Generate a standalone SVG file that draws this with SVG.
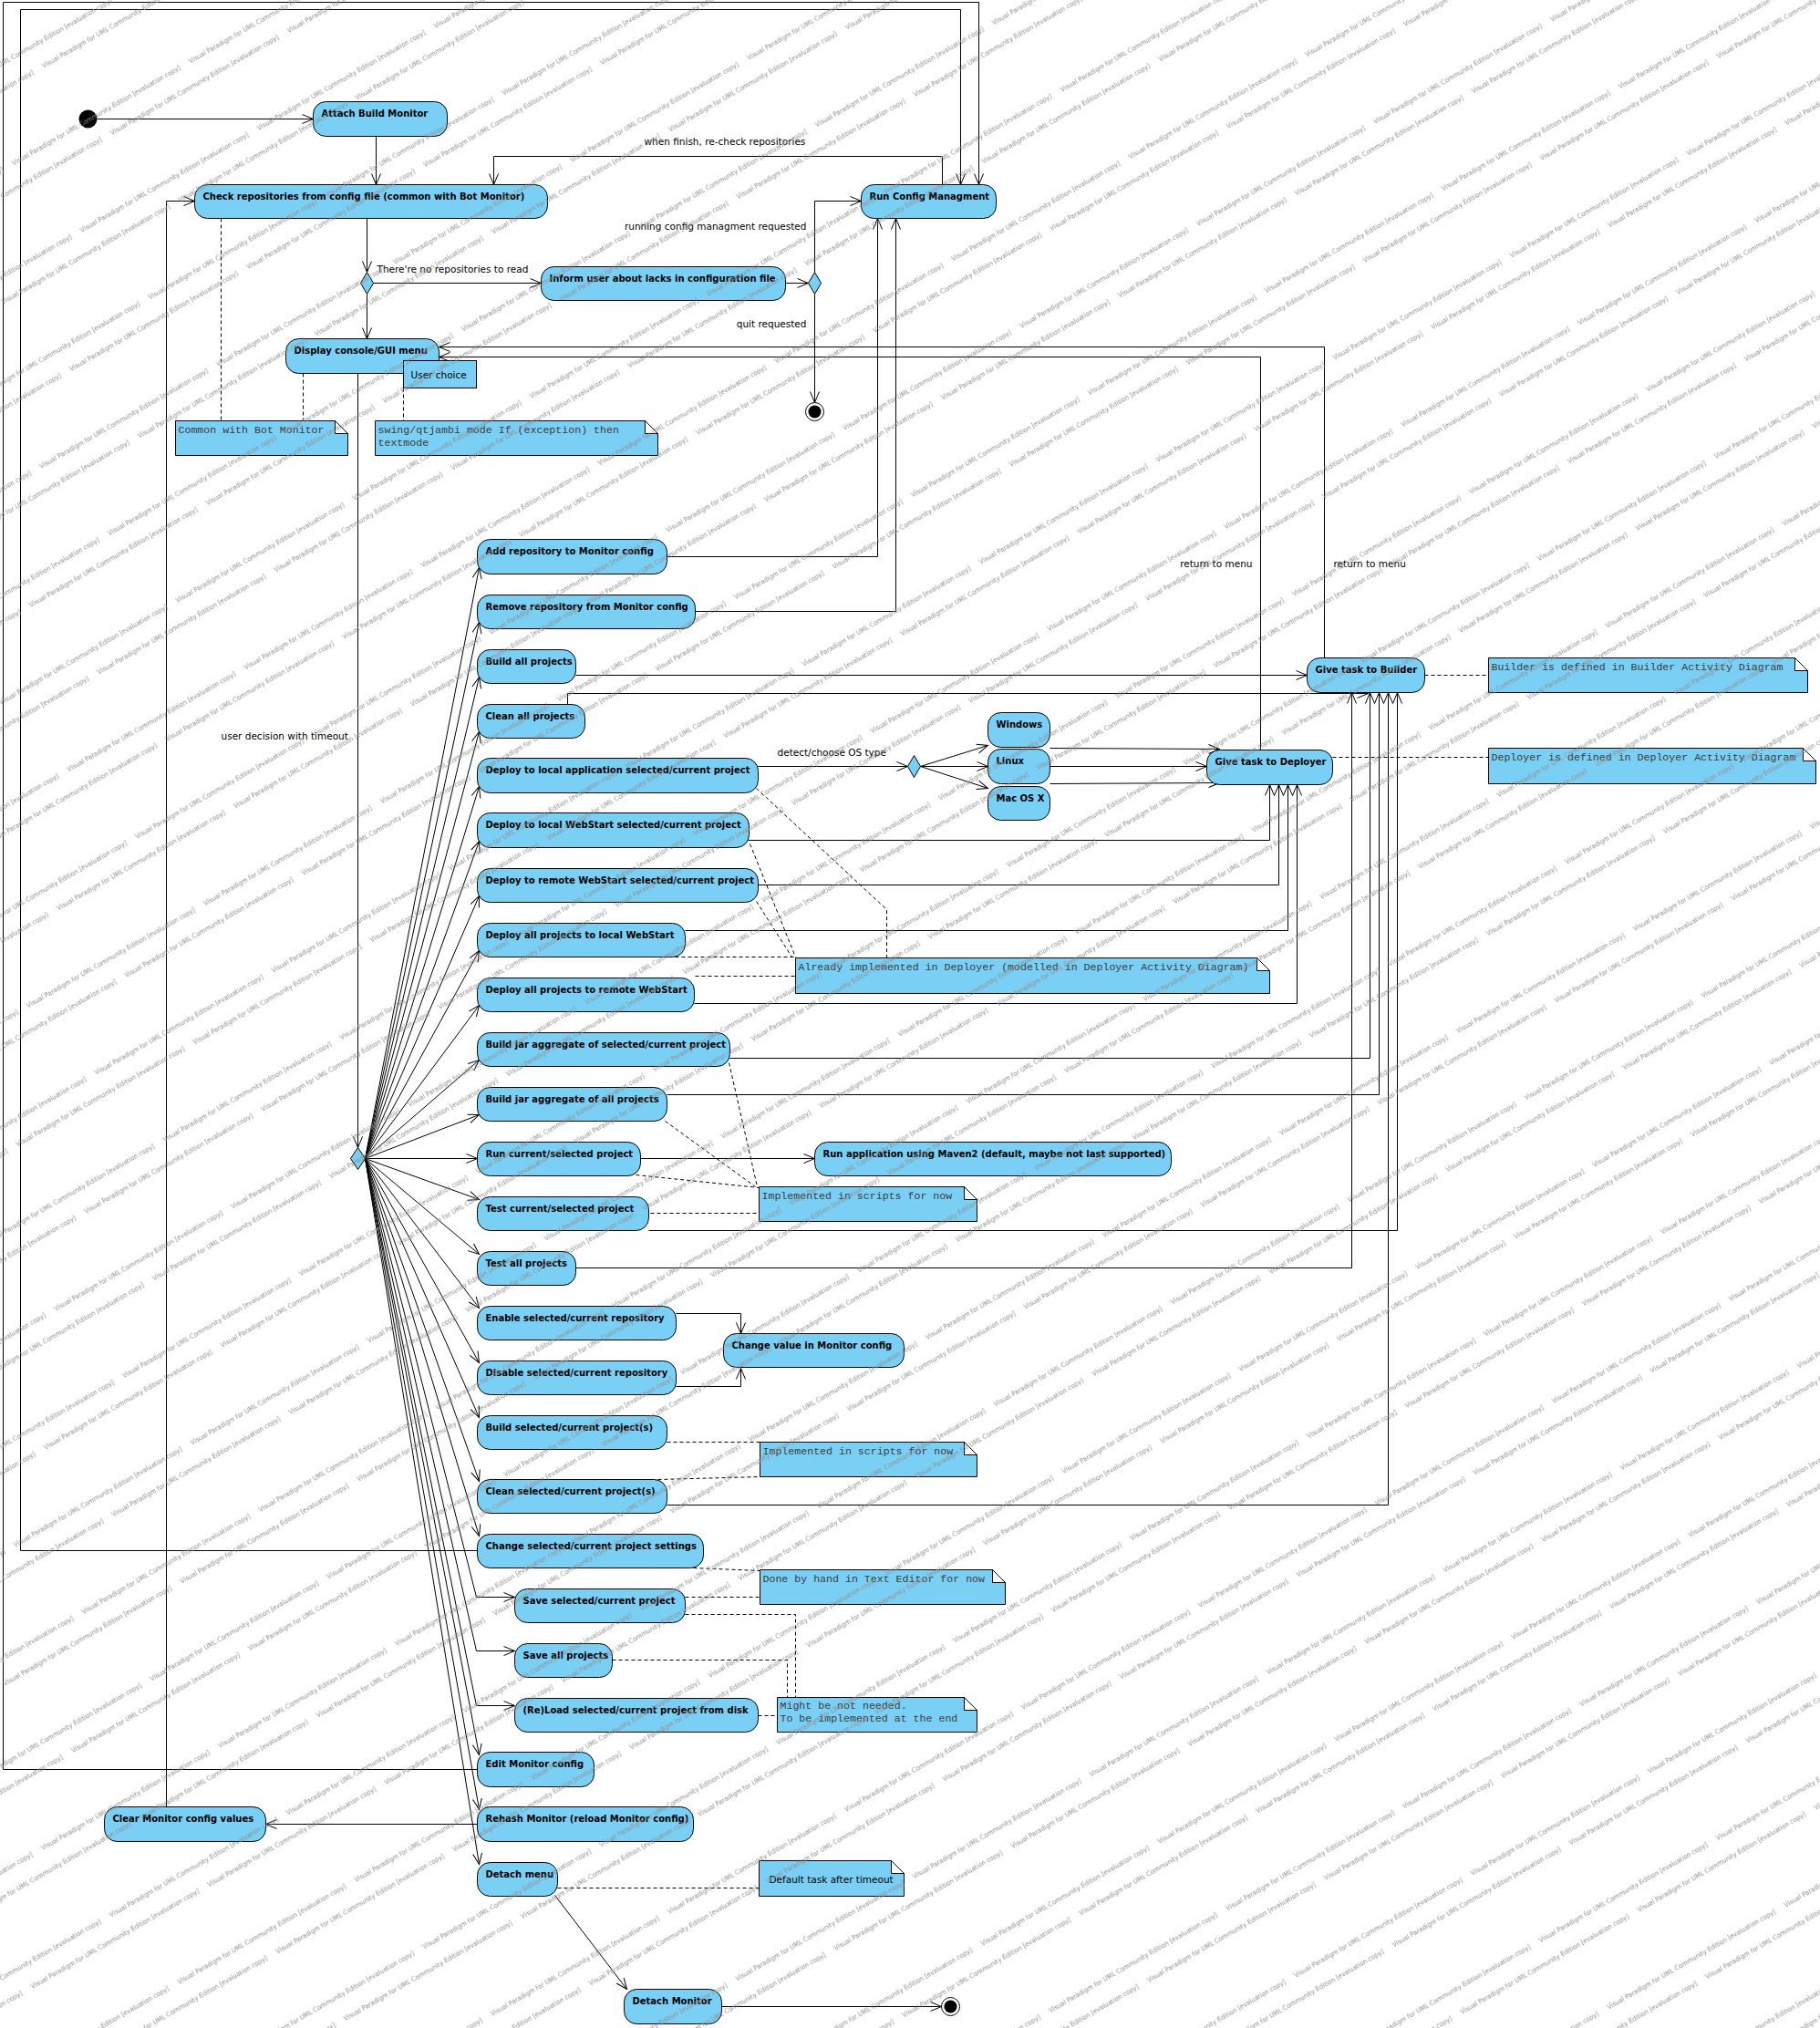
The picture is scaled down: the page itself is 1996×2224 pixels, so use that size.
<svg xmlns="http://www.w3.org/2000/svg" width="1996" height="2224" viewBox="0 0 1996 2224">
<style>
.act{fill:#7ACFF5;stroke:#000;stroke-width:1}
.t{font-family:"DejaVu Sans",sans-serif;font-size:10px;font-weight:bold;fill:#000}
.e{fill:none;stroke:#000;stroke-width:1}
.a{marker-end:url(#ah)}
.d{fill:none;stroke:#000;stroke-width:1;stroke-dasharray:4 3}
.nb{fill:#7ACFF5;stroke:#000;stroke-width:1}
.nf{fill:#fff;stroke:#000;stroke-width:1}
.nt{font-family:"Liberation Mono",monospace;font-size:11.6px;fill:#3c3c3c}
.st{font-family:"DejaVu Sans",sans-serif;font-size:10.5px;fill:#000}
.wmt{font-family:"DejaVu Sans",sans-serif;font-size:7.5px;fill:#8e8e8e}
</style>
<defs>
<marker id="ah" viewBox="0 0 14 12" refX="13" refY="6" markerWidth="14" markerHeight="12" orient="auto" markerUnits="userSpaceOnUse">
<path d="M1,1 L13,6 L1,11" fill="none" stroke="#000" stroke-width="1"/>
</marker>
<pattern id="wm" patternUnits="userSpaceOnUse" x="4.1" y="78.9" width="224" height="808" patternTransform="rotate(-30)">
<g class="wmt">
<text x="0" y="10" textLength="212" lengthAdjust="spacingAndGlyphs">Visual Paradigm for UML Community Edition [evaluation copy]</text>
<text x="-224" y="10" textLength="212" lengthAdjust="spacingAndGlyphs">Visual Paradigm for UML Community Edition [evaluation copy]</text>
<text x="142" y="85.6" textLength="212" lengthAdjust="spacingAndGlyphs">Visual Paradigm for UML Community Edition [evaluation copy]</text>
<text x="-82" y="85.6" textLength="212" lengthAdjust="spacingAndGlyphs">Visual Paradigm for UML Community Edition [evaluation copy]</text>
<text x="28" y="111" textLength="212" lengthAdjust="spacingAndGlyphs">Visual Paradigm for UML Community Edition [evaluation copy]</text>
<text x="-196" y="111" textLength="212" lengthAdjust="spacingAndGlyphs">Visual Paradigm for UML Community Edition [evaluation copy]</text>
<text x="170" y="186.6" textLength="212" lengthAdjust="spacingAndGlyphs">Visual Paradigm for UML Community Edition [evaluation copy]</text>
<text x="-54" y="186.6" textLength="212" lengthAdjust="spacingAndGlyphs">Visual Paradigm for UML Community Edition [evaluation copy]</text>
<text x="56" y="212" textLength="212" lengthAdjust="spacingAndGlyphs">Visual Paradigm for UML Community Edition [evaluation copy]</text>
<text x="-168" y="212" textLength="212" lengthAdjust="spacingAndGlyphs">Visual Paradigm for UML Community Edition [evaluation copy]</text>
<text x="198" y="287.6" textLength="212" lengthAdjust="spacingAndGlyphs">Visual Paradigm for UML Community Edition [evaluation copy]</text>
<text x="-26" y="287.6" textLength="212" lengthAdjust="spacingAndGlyphs">Visual Paradigm for UML Community Edition [evaluation copy]</text>
<text x="84" y="313" textLength="212" lengthAdjust="spacingAndGlyphs">Visual Paradigm for UML Community Edition [evaluation copy]</text>
<text x="-140" y="313" textLength="212" lengthAdjust="spacingAndGlyphs">Visual Paradigm for UML Community Edition [evaluation copy]</text>
<text x="2" y="388.6" textLength="212" lengthAdjust="spacingAndGlyphs">Visual Paradigm for UML Community Edition [evaluation copy]</text>
<text x="-222" y="388.6" textLength="212" lengthAdjust="spacingAndGlyphs">Visual Paradigm for UML Community Edition [evaluation copy]</text>
<text x="112" y="414" textLength="212" lengthAdjust="spacingAndGlyphs">Visual Paradigm for UML Community Edition [evaluation copy]</text>
<text x="-112" y="414" textLength="212" lengthAdjust="spacingAndGlyphs">Visual Paradigm for UML Community Edition [evaluation copy]</text>
<text x="30" y="489.6" textLength="212" lengthAdjust="spacingAndGlyphs">Visual Paradigm for UML Community Edition [evaluation copy]</text>
<text x="-194" y="489.6" textLength="212" lengthAdjust="spacingAndGlyphs">Visual Paradigm for UML Community Edition [evaluation copy]</text>
<text x="140" y="515" textLength="212" lengthAdjust="spacingAndGlyphs">Visual Paradigm for UML Community Edition [evaluation copy]</text>
<text x="-84" y="515" textLength="212" lengthAdjust="spacingAndGlyphs">Visual Paradigm for UML Community Edition [evaluation copy]</text>
<text x="58" y="590.6" textLength="212" lengthAdjust="spacingAndGlyphs">Visual Paradigm for UML Community Edition [evaluation copy]</text>
<text x="-166" y="590.6" textLength="212" lengthAdjust="spacingAndGlyphs">Visual Paradigm for UML Community Edition [evaluation copy]</text>
<text x="168" y="616" textLength="212" lengthAdjust="spacingAndGlyphs">Visual Paradigm for UML Community Edition [evaluation copy]</text>
<text x="-56" y="616" textLength="212" lengthAdjust="spacingAndGlyphs">Visual Paradigm for UML Community Edition [evaluation copy]</text>
<text x="86" y="691.6" textLength="212" lengthAdjust="spacingAndGlyphs">Visual Paradigm for UML Community Edition [evaluation copy]</text>
<text x="-138" y="691.6" textLength="212" lengthAdjust="spacingAndGlyphs">Visual Paradigm for UML Community Edition [evaluation copy]</text>
<text x="196" y="717" textLength="212" lengthAdjust="spacingAndGlyphs">Visual Paradigm for UML Community Edition [evaluation copy]</text>
<text x="-28" y="717" textLength="212" lengthAdjust="spacingAndGlyphs">Visual Paradigm for UML Community Edition [evaluation copy]</text>
<text x="114" y="792.6" textLength="212" lengthAdjust="spacingAndGlyphs">Visual Paradigm for UML Community Edition [evaluation copy]</text>
<text x="-110" y="792.6" textLength="212" lengthAdjust="spacingAndGlyphs">Visual Paradigm for UML Community Edition [evaluation copy]</text>
</g>
</pattern>
</defs>
<rect x="0" y="0" width="1996" height="2224" fill="#fff"/>
<g transform="translate(0.5,0.5)">
<!-- connectors -->
<g id="connectors">
<path class="e a" d="M106,130 H343"/>
<path class="e a" d="M412,149 V202"/>
<path class="e a" d="M402,239 V298"/>
<path class="e a" d="M402,322 V371"/>
<path class="e a" d="M409,310 H593"/>
<path class="e a" d="M861,310 H886"/>
<path class="e a" d="M893,298 V220 H944"/>
<path class="e a" d="M893,322 V441"/>
<path class="e a" d="M1033,202 V171 H541 V202"/>
<path class="e a" d="M392,409 V1258"/>
<path class="e a" d="M1452,721 V380 H481"/>
<path class="e a" d="M1382,822 V391 H481"/>
<path class="e a" d="M523,1940 H3 V2 H1073 V202"/>
<path class="e a" d="M523,1700 H22 V10 H1053 V202"/>
<path class="e a" d="M182,1981 V220 H213"/>
<path class="e a" d="M523,2000 H291"/>
<path class="e a" d="M608,2078 L687,2181"/>
<path class="e a" d="M791,2200 H1032"/>
<path class="e a" d="M731,610 H962 V239"/>
<path class="e a" d="M762,670 H982 V239"/>
<path class="e a" d="M631,740 H1433"/>
<path class="e a" d="M622,772 V760 H1500"/>
<path class="e a" d="M831,840 H995"/>
<path class="e a" d="M1009,840 L1083,817"/>
<path class="e a" d="M1009,840 H1083"/>
<path class="e a" d="M1009,840 L1083,864"/>
<path class="e a" d="M1151,820 L1337,821"/>
<path class="e a" d="M1151,840 H1323"/>
<path class="e a" d="M1151,859 L1337,858"/>
<path class="e a" d="M819,921 H1392 V860"/>
<path class="e a" d="M831,970 H1402 V860"/>
<path class="e a" d="M751,1020 H1412 V860"/>
<path class="e a" d="M761,1100 H1422 V860"/>
<path class="e a" d="M800,1160 H1502 V759"/>
<path class="e a" d="M731,1200 H1512 V759"/>
<path class="e a" d="M702,1270 H893"/>
<path class="e a" d="M711,1349 H1532 V759"/>
<path class="e a" d="M631,1390 H1482 V759"/>
<path class="e a" d="M741,1440 H812 V1462"/>
<path class="e a" d="M741,1520 H812 V1500"/>
<path class="e a" d="M731,1650 H1522 V759"/>
<!-- fan out of the menu decision -->
<path class="e a" d="M400,1270 L525,622"/>
<path class="e a" d="M400,1270 L525,682"/>
<path class="e a" d="M400,1270 L525,742"/>
<path class="e a" d="M400,1270 L525,802"/>
<path class="e a" d="M400,1270 L525,862"/>
<path class="e a" d="M400,1270 L525,922"/>
<path class="e a" d="M400,1270 L525,982"/>
<path class="e a" d="M400,1270 L525,1042"/>
<path class="e a" d="M400,1270 L525,1102"/>
<path class="e a" d="M400,1270 L525,1162"/>
<path class="e a" d="M400,1270 L525,1222"/>
<path class="e a" d="M400,1270 L523,1270"/>
<path class="e a" d="M400,1270 L525,1315"/>
<path class="e a" d="M400,1270 L525,1375"/>
<path class="e a" d="M400,1270 L525,1434"/>
<path class="e a" d="M400,1270 L525,1494"/>
<path class="e a" d="M400,1270 L525,1554"/>
<path class="e a" d="M400,1270 L525,1624"/>
<path class="e a" d="M400,1270 L525,1684"/>
<path class="e a" d="M400,1270 L522,1751 H564"/>
<path class="e a" d="M400,1270 L522,1810 H564"/>
<path class="e a" d="M400,1270 L522,1870 H564"/>
<path class="e a" d="M400,1270 L525,1924"/>
<path class="e a" d="M400,1270 L525,1984"/>
<path class="e a" d="M400,1270 L525,2044"/>
<!-- note anchors -->
<path class="d" d="M242,239 V461"/>
<path class="d" d="M332,409 V461"/>
<path class="d" d="M442,425 V461"/>
<path class="d" d="M1562,740 H1632"/>
<path class="d" d="M1461,830 H1632"/>
<path class="d" d="M829,864 L972,997 V1050"/>
<path class="d" d="M822,925 L872,1049"/>
<path class="d" d="M829,988 L868,1049"/>
<path class="d" d="M740,1049 H872"/>
<path class="d" d="M762,1070 H872"/>
<path class="d" d="M799,1165 L830,1301"/>
<path class="d" d="M729,1229 L828,1301"/>
<path class="d" d="M697,1288 L832,1302"/>
<path class="d" d="M713,1330 H832"/>
<path class="d" d="M731,1581 H833"/>
<path class="d" d="M721,1622 L833,1619"/>
<path class="d" d="M760,1719 L833,1722"/>
<path class="d" d="M751,1751 H833"/>
<path class="d" d="M751,1770 H872 V1861"/>
<path class="d" d="M671,1820 H863 V1861"/>
<path class="d" d="M831,1881 H852"/>
<path class="d" d="M611,2070 H832"/>
<!-- guard labels -->
<text class="st" x="413" y="298">There're no repositories to read</text>
<text class="st" x="884" y="251" text-anchor="end">running config managment requested</text>
<text class="st" x="884" y="358" text-anchor="end">quit requested</text>
<text class="st" x="706" y="158">when finish, re-check repositories</text>
<text class="st" x="1373" y="621" text-anchor="end">return to menu</text>
<text class="st" x="1462" y="621">return to menu</text>
<text class="st" x="852" y="828">detect/choose OS type</text>
<text class="st" x="242" y="810">user decision with timeout</text>
</g>

<!-- control nodes -->
<g id="start"><circle cx="96" cy="130" r="10" fill="#000"/></g>
<g id="end-quit"><circle cx="893" cy="451" r="10" fill="#fff" stroke="#000"/><circle cx="893" cy="451" r="7" fill="#000"/></g>
<g id="end-detach"><circle cx="1042" cy="2200" r="10" fill="#fff" stroke="#000"/><circle cx="1042" cy="2200" r="7" fill="#000"/></g>
<g id="dec-repos"><path class="act" d="M402,298 L409,310 L402,322 L395,310 Z"/></g>
<g id="dec-config"><path class="act" d="M893,298 L900,310 L893,322 L886,310 Z"/></g>
<g id="dec-os"><path class="act" d="M1002,828 L1009,840 L1002,852 L995,840 Z"/></g>
<g id="dec-menu"><path class="act" d="M392,1258 L400,1270 L392,1282 L384,1270 Z"/></g>

<!-- activities -->
<g id="attach"><rect class="act" x="343" y="111" width="147" height="38" rx="14"/><text class="t" x="352" y="127">Attach Build Monitor</text></g>
<g id="check-repos"><rect class="act" x="213" y="202" width="387" height="37" rx="14"/><text class="t" x="222" y="218">Check repositories from config file (common with Bot Monitor)</text></g>
<g id="display-menu"><rect class="act" x="313" y="371" width="168" height="38" rx="14"/><text class="t" x="322" y="387">Display console/GUI menu</text></g>
<g id="inform"><rect class="act" x="593" y="292" width="268" height="37" rx="14"/><text class="t" x="602" y="308">Inform user about lacks in configuration file</text></g>
<g id="run-config"><rect class="act" x="944" y="202" width="148" height="37" rx="14"/><text class="t" x="953" y="218">Run Config Managment</text></g>
<g id="add-repo"><rect class="act" x="523" y="591" width="208" height="38" rx="14"/><text class="t" x="532" y="607">Add repository to Monitor config</text></g>
<g id="remove-repo"><rect class="act" x="523" y="652" width="239" height="37" rx="14"/><text class="t" x="532" y="668">Remove repository from Monitor config</text></g>
<g id="build-all"><rect class="act" x="523" y="712" width="108" height="37" rx="14"/><text class="t" x="532" y="728">Build all projects</text></g>
<g id="clean-all"><rect class="act" x="523" y="772" width="118" height="37" rx="14"/><text class="t" x="532" y="788">Clean all projects</text></g>
<g id="deploy-local-app"><rect class="act" x="523" y="831" width="308" height="38" rx="14"/><text class="t" x="532" y="847">Deploy to local application selected/current project</text></g>
<g id="deploy-local-ws"><rect class="act" x="523" y="891" width="298" height="38" rx="14"/><text class="t" x="532" y="907">Deploy to local WebStart selected/current project</text></g>
<g id="deploy-remote-ws"><rect class="act" x="523" y="952" width="308" height="37" rx="14"/><text class="t" x="532" y="968">Deploy to remote WebStart selected/current project</text></g>
<g id="deploy-all-local"><rect class="act" x="523" y="1012" width="228" height="37" rx="14"/><text class="t" x="532" y="1028">Deploy all projects to local WebStart</text></g>
<g id="deploy-all-remote"><rect class="act" x="523" y="1072" width="238" height="37" rx="14"/><text class="t" x="532" y="1088">Deploy all projects to remote WebStart</text></g>
<g id="jar-selected"><rect class="act" x="523" y="1132" width="277" height="37" rx="14"/><text class="t" x="532" y="1148">Build jar aggregate of selected/current project</text></g>
<g id="jar-all"><rect class="act" x="523" y="1192" width="208" height="37" rx="14"/><text class="t" x="532" y="1208">Build jar aggregate of all projects</text></g>
<g id="run-current"><rect class="act" x="523" y="1252" width="179" height="37" rx="14"/><text class="t" x="532" y="1268">Run current/selected project</text></g>
<g id="test-current"><rect class="act" x="523" y="1312" width="188" height="37" rx="14"/><text class="t" x="532" y="1328">Test current/selected project</text></g>
<g id="test-all"><rect class="act" x="523" y="1372" width="108" height="37" rx="14"/><text class="t" x="532" y="1388">Test all projects</text></g>
<g id="enable-repo"><rect class="act" x="523" y="1432" width="218" height="37" rx="14"/><text class="t" x="532" y="1448">Enable selected/current repository</text></g>
<g id="disable-repo"><rect class="act" x="523" y="1492" width="218" height="37" rx="14"/><text class="t" x="532" y="1508">Disable selected/current repository</text></g>
<g id="build-selected"><rect class="act" x="523" y="1552" width="208" height="37" rx="14"/><text class="t" x="532" y="1568">Build selected/current project(s)</text></g>
<g id="clean-selected"><rect class="act" x="523" y="1622" width="208" height="37" rx="14"/><text class="t" x="532" y="1638">Clean selected/current project(s)</text></g>
<g id="change-settings"><rect class="act" x="523" y="1682" width="248" height="37" rx="14"/><text class="t" x="532" y="1698">Change selected/current project settings</text></g>
<g id="save-selected"><rect class="act" x="564" y="1742" width="187" height="37" rx="14"/><text class="t" x="573" y="1758">Save selected/current project</text></g>
<g id="save-all"><rect class="act" x="564" y="1802" width="107" height="37" rx="14"/><text class="t" x="573" y="1818">Save all projects</text></g>
<g id="reload"><rect class="act" x="564" y="1862" width="267" height="37" rx="14"/><text class="t" x="573" y="1878">(Re)Load selected/current project from disk</text></g>
<g id="edit-config"><rect class="act" x="523" y="1921" width="128" height="38" rx="14"/><text class="t" x="532" y="1937">Edit Monitor config</text></g>
<g id="rehash"><rect class="act" x="523" y="1981" width="237" height="38" rx="14"/><text class="t" x="532" y="1997">Rehash Monitor (reload Monitor config)</text></g>
<g id="detach-menu"><rect class="act" x="523" y="2042" width="88" height="37" rx="14"/><text class="t" x="532" y="2058">Detach menu</text></g>
<g id="clear-config"><rect class="act" x="114" y="1981" width="177" height="38" rx="14"/><text class="t" x="123" y="1997">Clear Monitor config values</text></g>
<g id="detach-monitor"><rect class="act" x="684" y="2181" width="107" height="38" rx="14"/><text class="t" x="693" y="2197">Detach Monitor</text></g>
<g id="run-maven"><rect class="act" x="893" y="1252" width="391" height="37" rx="14"/><text class="t" x="902" y="1268">Run application using Maven2 (default, maybe not last supported)</text></g>
<g id="change-value"><rect class="act" x="793" y="1462" width="198" height="37" rx="14"/><text class="t" x="802" y="1478">Change value in Monitor config</text></g>
<g id="os-windows"><rect class="act" x="1083" y="781" width="68" height="38" rx="14"/><text class="t" x="1092" y="797">Windows</text></g>
<g id="os-linux"><rect class="act" x="1083" y="821" width="68" height="38" rx="14"/><text class="t" x="1092" y="837">Linux</text></g>
<g id="os-mac"><rect class="act" x="1083" y="862" width="68" height="37" rx="14"/><text class="t" x="1092" y="878">Mac OS X</text></g>
<g id="to-deployer"><rect class="act" x="1323" y="822" width="138" height="38" rx="14"/><text class="t" x="1332" y="838">Give task to Deployer</text></g>
<g id="to-builder"><rect class="act" x="1433" y="721" width="129" height="38" rx="14"/><text class="t" x="1442" y="737">Give task to Builder</text></g>

<!-- comments -->
<g id="note-common"><path class="nb" d="M192,461 H367 L381,475 V499 H192 Z"/><path class="nf" d="M367,461 V475 H381 Z"/><text class="nt" x="195" y="474">Common with Bot Monitor</text></g>
<g id="note-swing"><path class="nb" d="M411,461 H707 L721,475 V499 H411 Z"/><path class="nf" d="M707,461 V475 H721 Z"/><text class="nt" x="414" y="474">swing/qtjambi mode If (exception) then</text><text class="nt" x="414" y="488">textmode</text></g>
<g id="note-user-choice"><rect class="nb" x="442" y="395" width="80" height="30"/><text class="st" x="450" y="414">User choice</text></g>
<g id="note-builder"><path class="nb" d="M1632,721 H1968 L1982,735 V759 H1632 Z"/><path class="nf" d="M1968,721 V735 H1982 Z"/><text class="nt" x="1635" y="734">Builder is defined in Builder Activity Diagram</text></g>
<g id="note-deployer"><path class="nb" d="M1632,820 H1977 L1991,834 V859 H1632 Z"/><path class="nf" d="M1977,820 V834 H1991 Z"/><text class="nt" x="1635" y="833">Deployer is defined in Deployer Activity Diagram</text></g>
<g id="note-already"><path class="nb" d="M872,1050 H1378 L1392,1064 V1089 H872 Z"/><path class="nf" d="M1378,1050 V1064 H1392 Z"/><text class="nt" x="875" y="1063">Already implemented in Deployer (modelled in Deployer Activity Diagram)</text></g>
<g id="note-scripts-1"><path class="nb" d="M832,1301 H1057 L1071,1315 V1339 H832 Z"/><path class="nf" d="M1057,1301 V1315 H1071 Z"/><text class="nt" x="835" y="1314">Implemented in scripts for now</text></g>
<g id="note-scripts-2"><path class="nb" d="M833,1581 H1057 L1071,1595 V1619 H833 Z"/><path class="nf" d="M1057,1581 V1595 H1071 Z"/><text class="nt" x="836" y="1594">Implemented in scripts for now</text></g>
<g id="note-by-hand"><path class="nb" d="M833,1721 H1088 L1102,1735 V1759 H833 Z"/><path class="nf" d="M1088,1721 V1735 H1102 Z"/><text class="nt" x="836" y="1734">Done by hand in Text Editor for now</text></g>
<g id="note-later"><path class="nb" d="M852,1861 H1057 L1071,1875 V1899 H852 Z"/><path class="nf" d="M1057,1861 V1875 H1071 Z"/><text class="nt" x="855" y="1873">Might be not needed.</text><text class="nt" x="855" y="1887">To be implemented at the end</text></g>
<g id="note-timeout"><path class="nb" d="M832,2040 H977 L991,2054 V2079 H832 Z"/><path class="nf" d="M977,2040 V2054 H991 Z"/><text class="st" x="843" y="2064">Default task after timeout</text></g>
</g>
<!-- evaluation watermark laid over the drawing -->
<rect x="0" y="0" width="1996" height="2224" fill="url(#wm)"/>
</svg>
